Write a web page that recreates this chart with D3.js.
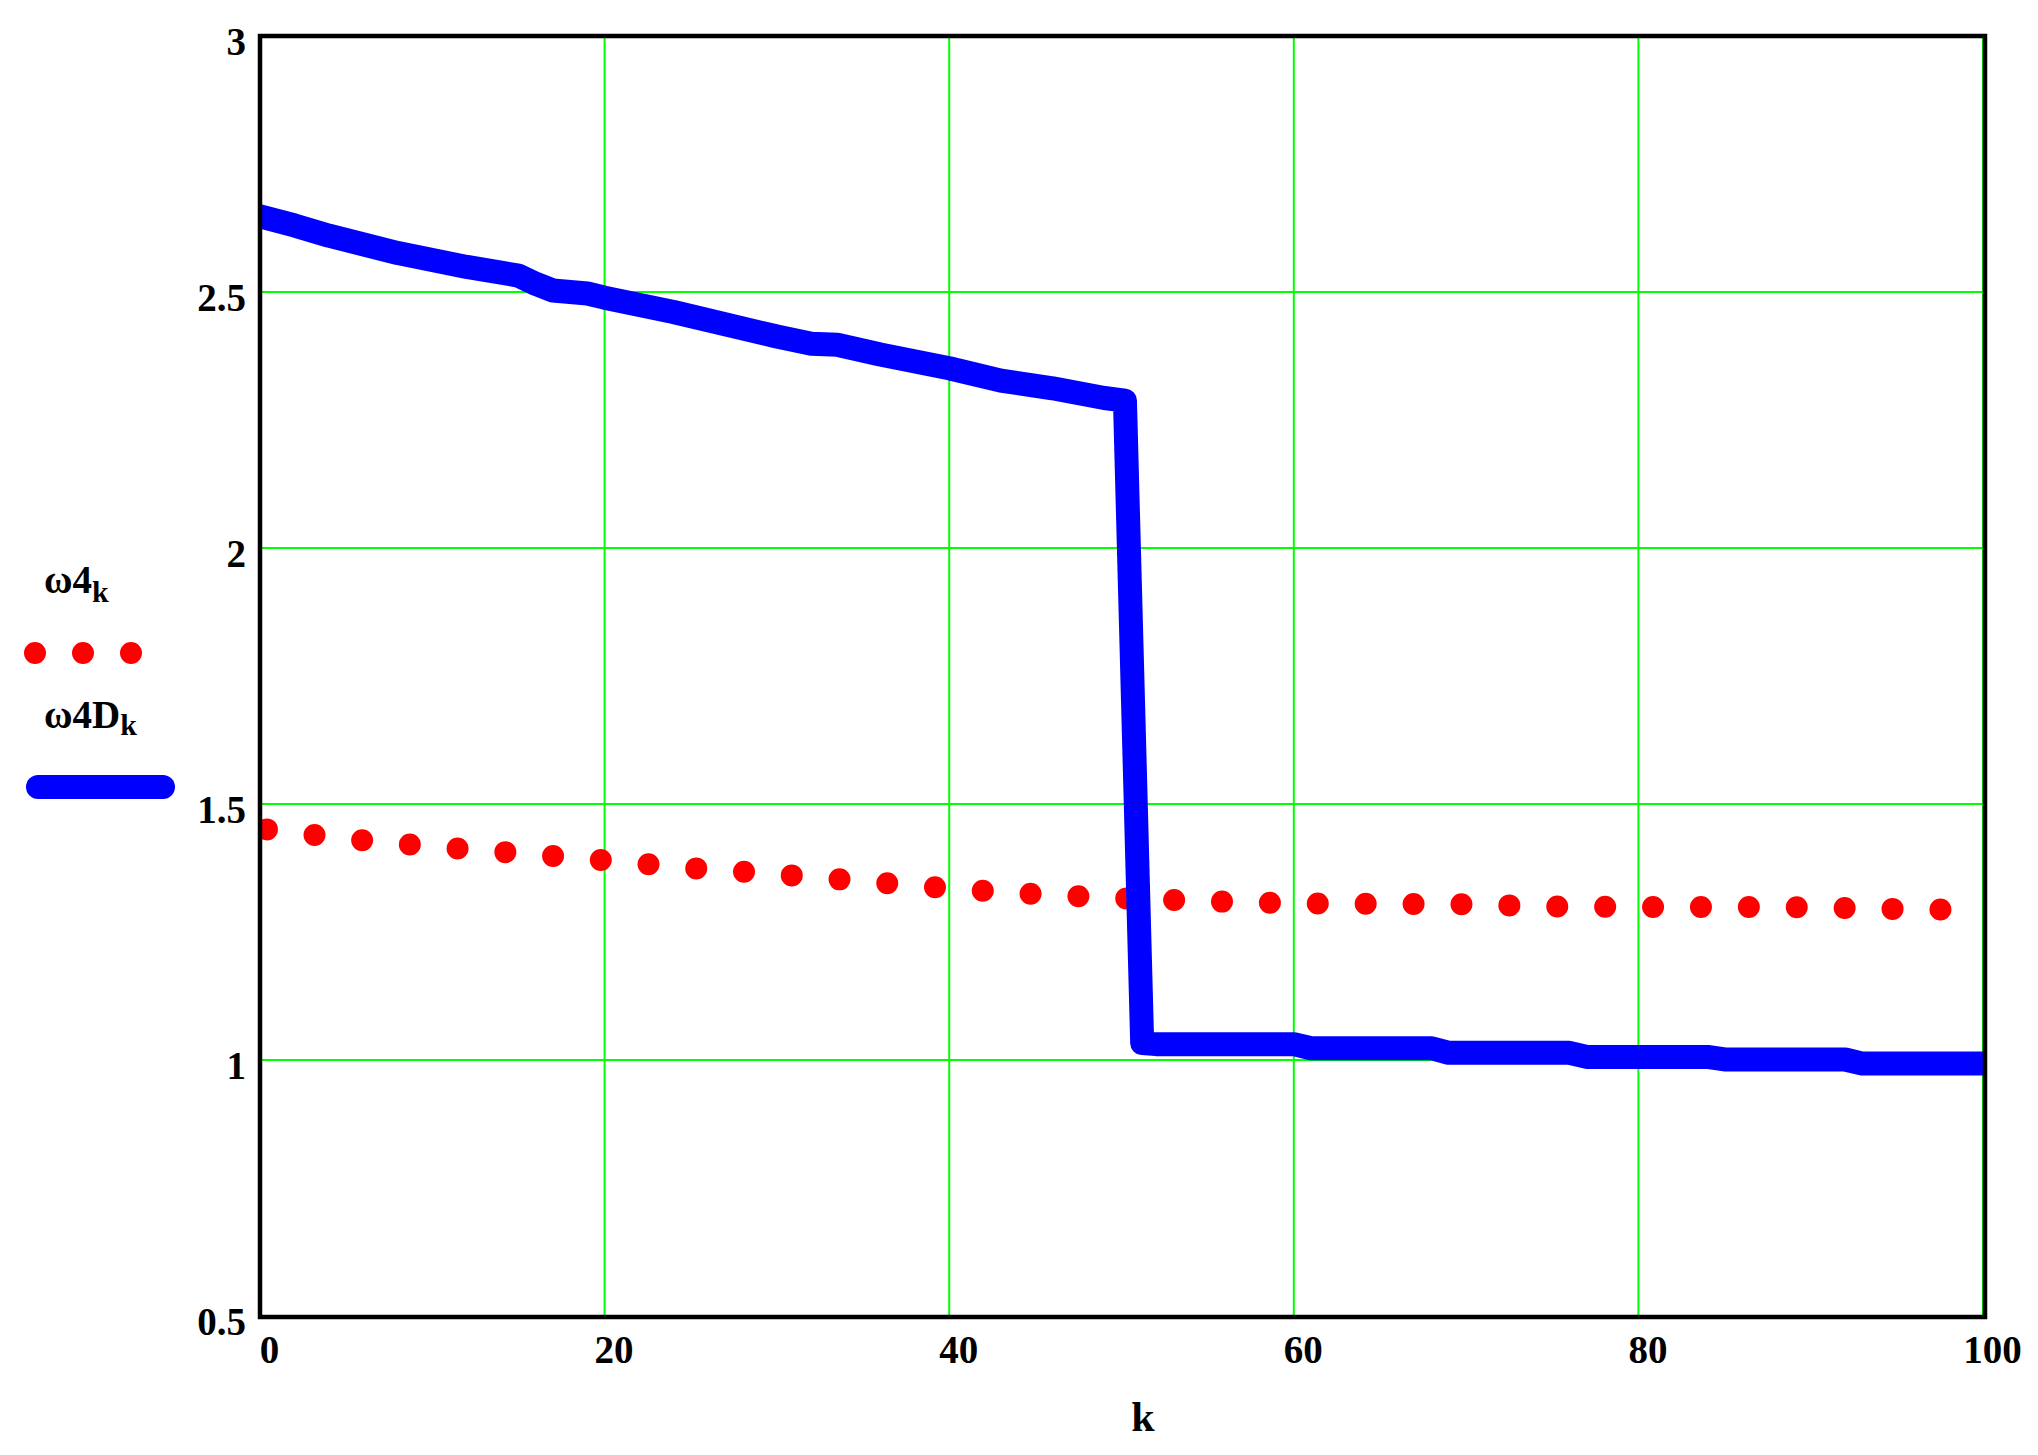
<!DOCTYPE html>
<html>
<head>
<meta charset="utf-8">
<script src="https://cdn.jsdelivr.net/npm/d3@7/dist/d3.min.js"></script>
<style>
  html, body { margin: 0; padding: 0; background: #ffffff; }
  svg { display: block; }
  text { font-family: "Liberation Serif", "DejaVu Serif", serif; font-weight: bold; fill: #000; }
</style>
</head>
<body>
<svg id="chart" width="2038" height="1455"></svg>
<script>
// ---- data ----
const kTicks = [0, 20, 40, 60, 80, 100];
const kTickLabels = ["0", "20", "40", "60", "80", "100"];
const yTicks = [0.5, 1, 1.5, 2, 2.5, 3];
const yTickLabels = ["0.5", "1", "1.5", "2", "2.5", "3"];

// ω4_k (red dotted trace)
const omega4K    = [0, 5, 10, 15, 20, 25, 30, 35, 40, 45, 50, 55, 60, 65, 70, 75, 80, 85, 90, 95, 100];
const omega4Vals = [1.452, 1.432, 1.417, 1.404, 1.390, 1.375, 1.363, 1.349, 1.335, 1.324, 1.316,
                    1.310, 1.306, 1.305, 1.304, 1.300, 1.299, 1.299, 1.298, 1.295, 1.293];

// ω4D_k (blue solid trace)
const omega4DK    = [0, 2, 4, 8, 12, 15, 16, 17, 19, 20, 24, 30, 32, 33.5, 36, 40, 43, 46, 49, 50.2,
                     51.2, 52, 60, 61, 68, 69, 76, 77, 84, 85, 92, 93, 100];
const omega4DVals = [2.648, 2.630, 2.610, 2.576, 2.549, 2.532, 2.516, 2.503, 2.497, 2.489, 2.461,
                     2.413, 2.399, 2.397, 2.378, 2.351, 2.327, 2.312, 2.293, 2.288,
                     1.033, 1.031, 1.031, 1.023, 1.023, 1.014, 1.014, 1.006, 1.006, 1.001, 1.001,
                     0.993, 0.993];

const xLabel = "k";

// ---- layout ----
const svg = d3.select("#chart");
const x = d3.scaleLinear().domain([0, 100]).range([260, 1983]);
const y = d3.scaleLinear().domain([0.5, 3]).range([1316, 36]);
const [x0, x1] = x.range();
const [yB, yT] = y.range();

svg.append("defs").append("clipPath").attr("id", "plotClip")
  .append("rect").attr("x", x0).attr("y", yT).attr("width", x1 - x0).attr("height", yB - yT);

// gridlines
const grid = svg.append("g");
grid.selectAll("line.v").data(kTicks.filter(d => d > 0)).join("line")
  .attr("x1", d => x(d)).attr("x2", d => x(d)).attr("y1", yT).attr("y2", yB)
  .attr("stroke", "#00ff00").attr("stroke-width", 2);
grid.selectAll("line.h").data(yTicks.filter(d => d > 0.5 && d < 3)).join("line")
  .attr("x1", x0).attr("x2", x1).attr("y1", d => y(d)).attr("y2", d => y(d))
  .attr("stroke", "#00ff00").attr("stroke-width", 2);

const plot = svg.append("g").attr("clip-path", "url(#plotClip)");
const line = d3.line().x(d => x(d[0])).y(d => y(d[1]));

// red dotted trace
plot.append("path")
  .datum(omega4K.map((k, i) => [k, omega4Vals[i]]))
  .attr("d", line)
  .attr("fill", "none")
  .attr("stroke", "#ff0000")
  .attr("stroke-width", 22)
  .attr("stroke-linecap", "round")
  .attr("stroke-dasharray", "0 47.9")
  .attr("stroke-dashoffset", 40.9);

// blue solid trace
plot.append("path")
  .datum(omega4DK.map((k, i) => [k, omega4DVals[i]]))
  .attr("d", line)
  .attr("fill", "none")
  .attr("stroke", "#0000ff")
  .attr("stroke-width", 24)
  .attr("stroke-linejoin", "round")
  .attr("stroke-linecap", "round");

// frame
svg.append("rect")
  .attr("x", x0).attr("y", yT).attr("width", x1 - x0 + 2).attr("height", yB - yT + 1)
  .attr("fill", "none").attr("stroke", "#000").attr("stroke-width", 4.5);

// y axis labels
const yAxis = svg.append("g").attr("transform", "translate(246,0)")
  .call(d3.axisLeft(y).tickValues(yTicks).tickSize(0).tickPadding(0)
        .tickFormat((d, i) => yTickLabels[i]));
yAxis.select(".domain").remove();
yAxis.selectAll("text")
  .attr("x", 0).attr("dy", null).attr("y", 18)
  .attr("text-anchor", "end")
  .style("font-family", "'Liberation Serif', serif").style("font-weight", "bold")
  .style("font-size", "39px").attr("fill", "#000");

// x axis labels
const xAxis = svg.append("g").attr("transform", "translate(9,1363)")
  .call(d3.axisBottom(x).tickValues(kTicks).tickSize(0).tickPadding(0)
        .tickFormat((d, i) => kTickLabels[i]));
xAxis.select(".domain").remove();
xAxis.selectAll("text")
  .attr("y", 0).attr("dy", null)
  .attr("text-anchor", "middle")
  .style("font-family", "'Liberation Serif', serif").style("font-weight", "bold")
  .style("font-size", "39px").attr("fill", "#000");

// x axis title
svg.append("text").attr("x", 1143).attr("y", 1431).attr("text-anchor", "middle")
  .style("font-size", "42px").text(xLabel);

// legend
const lg = svg.append("g");
const t1 = lg.append("text").attr("x", 44).attr("y", 593).style("font-size", "39px");
t1.append("tspan").text("ω4");
t1.append("tspan").attr("dy", 9).style("font-size", "30px").text("k");

lg.append("line").attr("x1", 35).attr("x2", 132).attr("y1", 653).attr("y2", 653)
  .attr("stroke", "#ff0000").attr("stroke-width", 22)
  .attr("stroke-linecap", "round").attr("stroke-dasharray", "0 48");

const t2 = lg.append("text").attr("x", 44).attr("y", 728).style("font-size", "39px");
t2.append("tspan").text("ω4D");
t2.append("tspan").attr("dy", 7).style("font-size", "30px").text("k");

lg.append("line").attr("x1", 38).attr("x2", 163).attr("y1", 787).attr("y2", 787)
  .attr("stroke", "#0000ff").attr("stroke-width", 24).attr("stroke-linecap", "round");
</script>
</body>
</html>
